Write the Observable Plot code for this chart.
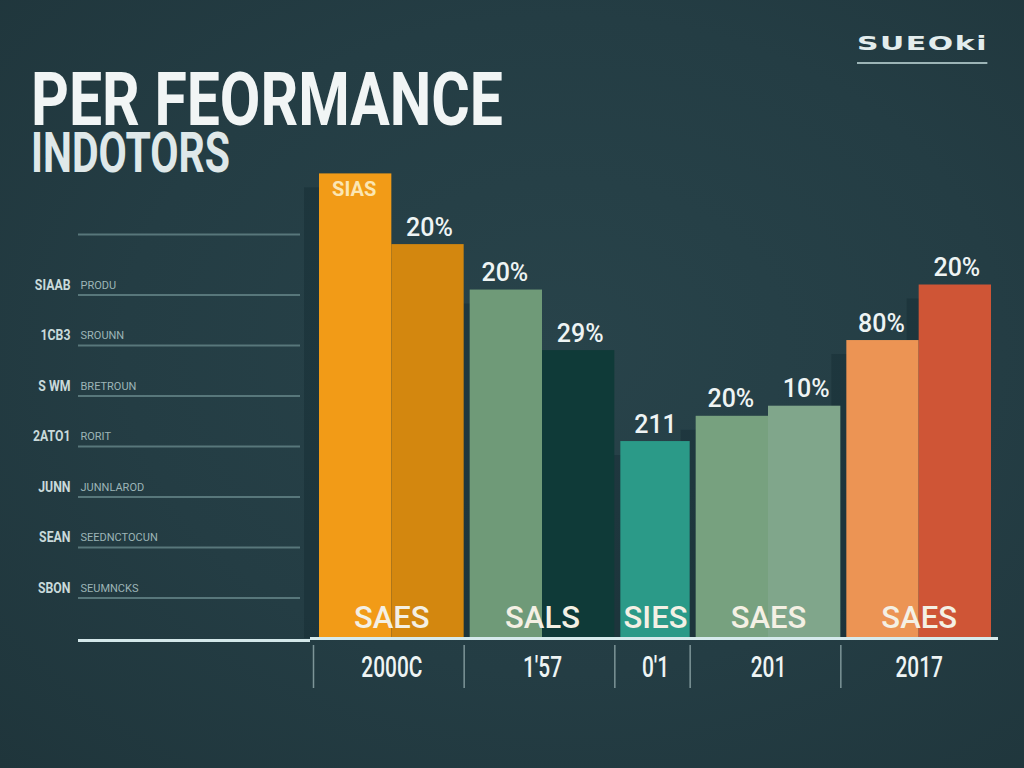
<!DOCTYPE html>
<html>
<head>
<meta charset="utf-8">
<script src="https://cdn.jsdelivr.net/npm/d3@7"></script>
<script src="https://cdn.jsdelivr.net/npm/@observablehq/plot@0.6"></script>
<style>
html, body { margin: 0; padding: 0; background: #233b42; }
#wrap {
  position: relative; width: 1024px; height: 768px; overflow: hidden;
  background: radial-gradient(ellipse at 55% 45%, #28434a 0%, #243d44 55%, #1f353b 100%);
}
#title, #brand { position: absolute; white-space: nowrap; }
#title { left: 31px; top: 73px; font-family: Roboto, sans-serif; font-weight: bold; }
#title .l1, #title .l2 { display: block; transform-origin: left top; width: max-content; }
#title .l1 { font-size: 74px; line-height: 53px; height: 53px; color: #f1f5f5; }
#title .l2 { font-size: 55px; line-height: 40px; height: 40px; margin-top: 7px; color: #dfe8e9; }
#brand {
  left: 857px; top: 34px; font-family: "DejaVu Sans", sans-serif; font-weight: 600;
  font-size: 19px; line-height: 1; color: #e3eded; letter-spacing: 1px;
  padding-bottom: 9px; border-bottom: 2px solid #9cb4b6; transform-origin: left top;
}
#chart { position: absolute; left: 0; top: 0; }
</style>
</head>
<body>
<div id="wrap">
  <div id="chart"></div>
  <div id="title"><span class="l1" id="title1">PER FEORMANCE</span><span class="l2" id="title2">INDOTORS</span></div>
  <div id="brand">SUEOki</div>
</div>
<script>
// ---- data ----
const barValues = [92, 78, 69, 57, 39, 44, 46, 59, 70];
const barColors = ["#f29b17", "#d3870f", "#6f9a78", "#0f3a38", "#2b9a88", "#77a17f", "#80a68b", "#ec9454", "#cf5536"];
const barLabels = ["SIAS", "20%", "20%", "29%", "211", "20%", "10%", "80%", "20%"];
const groupNames = ["2000C", "1'57", "0'1", "201", "2017"];
const groupInner = ["SAES", "SALS", "SIES", "SAES", "SAES"];
const groupSizes = [2, 2, 1, 2, 2];
const gridTicks = [8, 18, 28, 38, 48, 58, 68, 80];
const labelTicks = [68, 58, 48, 38, 28, 18, 8];
const yLabels = ["SIAAB", "1CB3", "S WM", "2ATO1", "JUNN", "SEAN", "SBON"];
const ySubLabels = ["PRODU", "SROUNN", "BRETROUN", "RORIT", "JUNNLAROD", "SEEDNCTOCUN", "SEUMNCKS"];

// ---- derived tables ----
const bars = [];
const groups = [];
let idx = 0;
groupSizes.forEach((size, g) => {
  groups.push({start: idx, center: idx + size / 2, name: groupNames[g], inner: groupInner[g]});
  for (let k = 0; k < size; k++, idx++) {
    bars.push({i: idx, i2: idx + 1, mid: idx + 0.5, value: barValues[idx], color: barColors[idx],
               label: barLabels[idx], first: k === 0, last: k === size - 1});
  }
});
const groupStarts = groups.map(d => d.start);
const groupCenters = groups.map(d => d.center);

const FONT = 'Roboto, sans-serif';

const marks = [];
// left-panel grid lines (axis ticks)
marks.push(Plot.axisY(gridTicks, {tickSize: 222, dx: -16, stroke: "#58777b", strokeWidth: 2, fill: "none", label: null}));
// left part of the base line
marks.push(Plot.axisY([0], {tickSize: 232, dx: -6, dy: 2, stroke: "#d3e7e9", strokeWidth: 3, fill: "none", label: null}));
// left labels
marks.push(Plot.axisY(labelTicks, {tickSize: 0, tickPadding: 246, dy: -10, label: null,
  tickFormat: d => yLabels[labelTicks.indexOf(d)], fill: "#c9dadb", fontSize: 15, fontFamily: FONT, fontWeight: "bold"}));
marks.push(Plot.text(labelTicks, {y: d => d, text: d => ySubLabels[labelTicks.indexOf(d)], frameAnchor: "left",
  dx: -236, dy: -10, textAnchor: "start", fill: "#9db5b7", fontSize: 11, fontFamily: FONT, ariaLabel: "sub"}));
// shadows
marks.push(Plot.rectY(bars, {x1: "i", x2: "i2", y: "value", dx: -12, insetTop: 14, fill: "#0c2126", fillOpacity: 0.28}));
// bars
bars.forEach(d => {
  marks.push(Plot.rectY([d], {x1: "i", x2: "i2", y: "value", fill: d.color,
    insetLeft: d.first ? 3 : 0, insetRight: d.last ? 3 : 0}));
});
// base line
marks.push(Plot.ruleY([0], {stroke: "#d6eaec", strokeWidth: 3, insetLeft: -6, insetRight: -4}));
// labels on top of bars
marks.push(Plot.text(bars.slice(1), {x: "mid", y: "value", text: "label", dy: -17, fill: "#eef4f4",
  fontSize: 25, fontFamily: FONT, fontWeight: 500, ariaLabel: "top"}));
marks.push(Plot.text(bars.slice(0, 1), {x: "mid", y: "value", text: "label", dy: 16, fill: "#fbe6b3",
  fontSize: 20, fontFamily: FONT, fontWeight: "bold", ariaLabel: "inside"}));
// inner group labels
marks.push(Plot.text(groups, {x: "center", text: "inner", frameAnchor: "bottom", lineAnchor: "middle", dy: -20,
  fill: "#f4f0e4", fontSize: 31, fontFamily: FONT, fontWeight: 500, ariaLabel: "inner"}));
// group separators below the base line
marks.push(Plot.axisX(groupStarts, {tickSize: 43, dy: 7, dx: -3, stroke: "#7d9598", strokeWidth: 1.5, fill: "none", label: null}));
// group names
marks.push(Plot.axisX(groupCenters, {tickSize: 0, tickPadding: 18, label: null,
  tickFormat: d => groupNames[groupCenters.indexOf(d)], fill: "#eef4f4", fontSize: 29, fontFamily: FONT, fontWeight: 500}));

const chart = Plot.plot({
  width: 1024, height: 768,
  marginTop: 133, marginBottom: 130, marginLeft: 316, marginRight: 30,
  x: {domain: [0, 9], axis: null},
  y: {domain: [0, 100], axis: null},
  style: {background: "transparent", color: "#e8f0f0", fontFamily: FONT},
  marks
});
document.getElementById("chart").appendChild(chart);

// condensed look: squeeze text horizontally around its anchor
function squeeze(selector, s) {
  chart.querySelectorAll(selector).forEach(t => {
    const tr = t.getAttribute("transform") || "";
    t.setAttribute("transform", tr + ` scale(${s},1)`);
  });
}
squeeze('g[aria-label="y-axis tick label"] text', 0.82);
squeeze('g[aria-label="sub"] text', 0.85);
squeeze('g[aria-label="top"] text', 0.9);
squeeze('g[aria-label="inside"] text', 0.9);
squeeze('g[aria-label="inner"] text', 0.85);
squeeze('g[aria-label="x-axis tick label"] text', 0.72);

// fit the HTML titles to the widths seen in the reference
function fit(id, target) {
  const el = document.getElementById(id);
  el.style.transform = "none";
  const w = el.getBoundingClientRect().width;
  el.style.transform = `scaleX(${target / w})`;
}
function fitAll() { fit("title1", 472); fit("title2", 199); fit("brand", 131); }
fitAll();
if (document.fonts && document.fonts.ready) document.fonts.ready.then(fitAll);
</script>
</body>
</html>
